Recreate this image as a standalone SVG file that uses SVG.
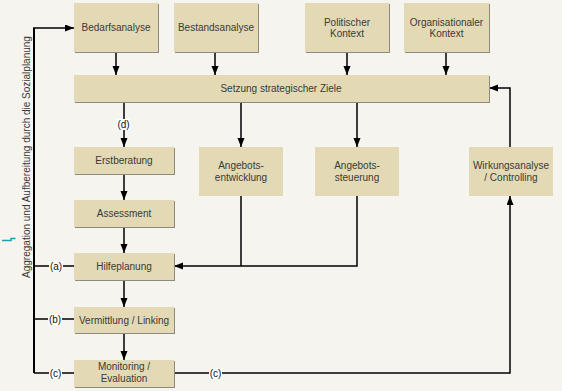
<svg xmlns="http://www.w3.org/2000/svg" width="562" height="391" viewBox="0 0 562 391">
  <style>
    .box { fill: #e3d9b4; }
    .shadow { fill: #8c8a80; }
    .t { font-family: "Liberation Sans", Arial, sans-serif; font-size: 10px; fill: #3a3a3a; text-anchor: middle; }
    .lbl { font-family: "Liberation Sans", Arial, sans-serif; font-size: 10px; fill: #111; text-anchor: middle; }
    .lblbg { fill: #ffffff; }
    .ln { fill: none; stroke: #000; stroke-width: 1.5; }
    .arr { marker-end: url(#ah); }
  </style>
  <defs>
    <marker id="ah" markerUnits="userSpaceOnUse" markerWidth="10" markerHeight="8" refX="9" refY="3.5" orient="auto">
      <path d="M0,0 L9,3.5 L0,7 z" fill="#000"/>
    </marker>
  </defs>

  <rect width="562" height="391" fill="#f5f4ef"/>

  <!-- connectors -->
  <g id="connectors">
    <!-- inputs into goal setting -->
    <path class="ln arr" d="M116,52 V75"/>
    <path class="ln arr" d="M215,52 V75"/>
    <path class="ln arr" d="M347,52 V75"/>
    <path class="ln arr" d="M446,52 V75"/>
    <!-- goal setting downwards -->
    <path class="ln arr" d="M124,102 V147"/>
    <path class="ln arr" d="M241,102 V147"/>
    <path class="ln arr" d="M357,102 V147"/>
    <!-- case chain -->
    <path class="ln arr" d="M124,174 V200"/>
    <path class="ln arr" d="M124,227 V253"/>
    <path class="ln arr" d="M124,280 V307"/>
    <path class="ln arr" d="M124,333 V360"/>
    <!-- supply development / control into help planning -->
    <path class="ln" d="M241,196 V266"/>
    <path class="ln arr" d="M357,196 V266 H174"/>
    <!-- monitoring to impact analysis, then back to goal setting -->
    <path class="ln arr" d="M174,373 H510 V196"/>
    <path class="ln arr" d="M510,147 V88 H489"/>
    <!-- aggregation loop on the left -->
    <path class="ln" d="M34,373 V28" style="stroke-width:2"/>
    <path class="ln arr" d="M33,28 H74"/>
    <path class="ln" d="M34,266 H74"/>
    <path class="ln" d="M34,319 H74"/>
    <path class="ln" d="M34,373 H74"/>
    <!-- small mark at the margin -->
    <path d="M2,240.5 H11 V238.5 H15.5" fill="none" stroke="#1f9fb2" stroke-width="1.5"/>

    <!-- path labels -->
    <rect class="lblbg" x="117" y="119" width="13" height="11"/>
    <text class="lbl" x="123.5" y="128">(d)</text>
    <rect class="lblbg" x="49" y="261" width="14" height="11"/>
    <text class="lbl" x="56" y="269.5">(a)</text>
    <rect class="lblbg" x="48" y="314" width="14" height="11"/>
    <text class="lbl" x="55" y="322.5">(b)</text>
    <rect class="lblbg" x="49" y="368" width="13" height="11"/>
    <text class="lbl" x="55.5" y="376.5">(c)</text>
    <rect class="lblbg" x="209" y="368" width="13" height="11"/>
    <text class="lbl" x="215.5" y="376.5">(c)</text>
  </g>

  <!-- vertical caption -->
  <text class="t" transform="translate(30,157) rotate(-90)">Aggregation und Aufbereitung durch die Sozialplanung</text>

  <g id="bedarfsanalyse">
    <rect class="shadow" x="75" y="4" width="84" height="49"/>
    <rect class="box" x="74" y="3" width="84" height="49"/>
    <text class="t" x="116" y="31">Bedarfsanalyse</text>
  </g>
  <g id="bestandsanalyse">
    <rect class="shadow" x="175" y="4" width="84" height="49"/>
    <rect class="box" x="174" y="3" width="84" height="49"/>
    <text class="t" x="216" y="31">Bestandsanalyse</text>
  </g>
  <g id="politischer-kontext">
    <rect class="shadow" x="306" y="4" width="84" height="49"/>
    <rect class="box" x="305" y="3" width="84" height="49"/>
    <text class="t" x="347" y="25.5">Politischer</text>
    <text class="t" x="347" y="37">Kontext</text>
  </g>
  <g id="organisationaler-kontext">
    <rect class="shadow" x="405" y="4" width="85" height="49"/>
    <rect class="box" x="404" y="3" width="85" height="49"/>
    <text class="t" x="446.5" y="25.5">Organisationaler</text>
    <text class="t" x="446.5" y="37">Kontext</text>
  </g>
  <g id="strategische-ziele">
    <rect class="shadow" x="75" y="76" width="415" height="27"/>
    <rect class="box" x="74" y="75" width="415" height="27"/>
    <text class="t" x="281" y="91.5">Setzung strategischer Ziele</text>
  </g>
  <g id="erstberatung">
    <rect class="shadow" x="75" y="148" width="100" height="27"/>
    <rect class="box" x="74" y="147" width="100" height="27"/>
    <text class="t" x="124" y="164">Erstberatung</text>
  </g>
  <g id="assessment">
    <rect class="shadow" x="75" y="201" width="100" height="27"/>
    <rect class="box" x="74" y="200" width="100" height="27"/>
    <text class="t" x="124" y="217">Assessment</text>
  </g>
  <g id="angebotsentwicklung">
    <rect class="box" x="199" y="147" width="84" height="49"/>
    <text class="t" x="241" y="169">Angebots-</text>
    <text class="t" x="241" y="181">entwicklung</text>
  </g>
  <g id="angebotssteuerung">
    <rect class="box" x="315" y="147" width="84" height="49"/>
    <text class="t" x="357" y="169">Angebots-</text>
    <text class="t" x="357" y="181">steuerung</text>
  </g>
  <g id="wirkungsanalyse">
    <rect class="box" x="469" y="147" width="84" height="49"/>
    <text class="t" x="511" y="169">Wirkungsanalyse</text>
    <text class="t" x="511" y="181">/ Controlling</text>
  </g>
  <g id="hilfeplanung">
    <rect class="shadow" x="75" y="254" width="100" height="27"/>
    <rect class="box" x="74" y="253" width="100" height="27"/>
    <text class="t" x="124" y="270">Hilfeplanung</text>
  </g>
  <g id="vermittlung">
    <rect class="shadow" x="75" y="308" width="100" height="26"/>
    <rect class="box" x="74" y="307" width="100" height="26"/>
    <text class="t" x="124" y="323.5">Vermittlung / Linking</text>
  </g>
  <g id="monitoring">
    <rect class="shadow" x="75" y="361" width="100" height="27"/>
    <rect class="box" x="74" y="360" width="100" height="27"/>
    <text class="t" x="124" y="369.5">Monitoring /</text>
    <text class="t" x="124" y="381.5">Evaluation</text>
  </g>
</svg>
